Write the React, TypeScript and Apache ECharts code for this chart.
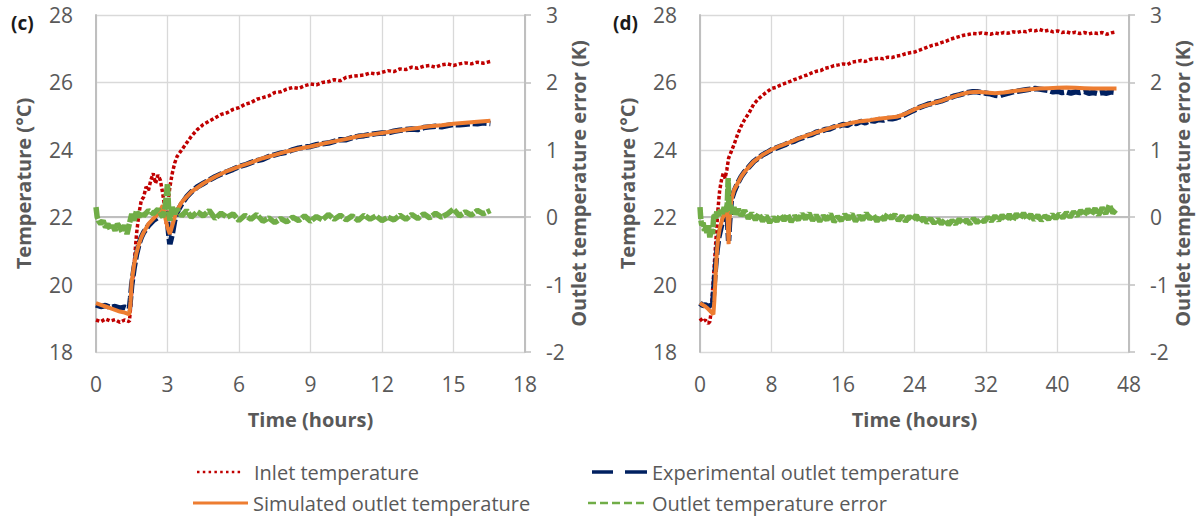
import React, { useEffect, useRef } from "react";
import * as echarts from "echarts";

// ---------- Data (time in hours, temperatures in °C, error in K) ----------
const xTicksC = { min: 0, max: 18, interval: 3 };
const xTicksD = { min: 0, max: 48, interval: 8 };
const tempAxis = { min: 18, max: 28, interval: 2 };
const errAxis = { min: -2, max: 3, interval: 1 };

const seriesNames = [
  "Inlet temperature",
  "Experimental outlet temperature",
  "Simulated outlet temperature",
  "Outlet temperature error",
];

const inletC = [
  [0, 18.95], [0.2, 18.9], [0.4, 18.98], [0.6, 18.92], [0.8, 18.96], [1.0, 18.88], [1.2, 18.95], [1.4, 18.9],
  [1.45, 19.3], [1.5, 19.8], [1.6, 20.6], [1.7, 21.5], [1.8, 22.1], [1.9, 22.5], [2.0, 22.6], [2.1, 22.9],
  [2.2, 22.8], [2.3, 23.1], [2.4, 23.3], [2.5, 23.0], [2.6, 23.25], [2.7, 23.1], [2.8, 22.7], [2.9, 22.2],
  [2.95, 21.8], [3.0, 22.3], [3.1, 22.9], [3.2, 23.3], [3.3, 23.6], [3.4, 23.8], [3.6, 24.0], [3.8, 24.2],
  [4.0, 24.4], [4.25, 24.6], [4.5, 24.75], [4.75, 24.85], [5.0, 24.95], [5.25, 25.05], [5.5, 25.1], [5.75, 25.2],
  [6.0, 25.25], [6.25, 25.35], [6.5, 25.4], [6.75, 25.5], [7.0, 25.55], [7.25, 25.6], [7.5, 25.7], [7.75, 25.72],
  [8.0, 25.8], [8.25, 25.85], [8.5, 25.82], [8.75, 25.9], [9.0, 25.95], [9.25, 25.93], [9.5, 26.0], [9.75, 26.02],
  [10.0, 26.08], [10.25, 26.05], [10.5, 26.15], [10.75, 26.18], [11.0, 26.2], [11.25, 26.22], [11.5, 26.28],
  [11.75, 26.25], [12.0, 26.3], [12.25, 26.35], [12.5, 26.32], [12.75, 26.4], [13.0, 26.38], [13.25, 26.45],
  [13.5, 26.42], [13.75, 26.48], [14.0, 26.5], [14.25, 26.45], [14.5, 26.52], [14.75, 26.55], [15.0, 26.5],
  [15.25, 26.55], [15.5, 26.58], [15.75, 26.55], [16.0, 26.6], [16.25, 26.57], [16.55, 26.62],
];

const expC = [
  [0, 19.4], [0.2, 19.35], [0.4, 19.38], [0.6, 19.32], [0.8, 19.35], [1.0, 19.3], [1.2, 19.33], [1.4, 19.28],
  [1.45, 19.6], [1.5, 20.0], [1.6, 20.5], [1.7, 20.9], [1.8, 21.2], [1.9, 21.4], [2.0, 21.55], [2.2, 21.75],
  [2.4, 21.9], [2.6, 22.0], [2.8, 22.1], [2.9, 22.15], [3.0, 21.9], [3.05, 21.5], [3.1, 21.2], [3.2, 21.5],
  [3.3, 21.9], [3.4, 22.15], [3.6, 22.4], [3.8, 22.6], [4.0, 22.75], [4.25, 22.9], [4.5, 23.0], [4.75, 23.1],
  [5.0, 23.2], [5.25, 23.28], [5.5, 23.35], [5.75, 23.42], [6.0, 23.5], [6.25, 23.55], [6.5, 23.62], [6.75, 23.68],
  [7.0, 23.72], [7.25, 23.8], [7.5, 23.85], [7.75, 23.9], [8.0, 23.93], [8.25, 24.0], [8.5, 24.05], [8.75, 24.08],
  [9.0, 24.1], [9.25, 24.15], [9.5, 24.18], [9.75, 24.2], [10.0, 24.25], [10.25, 24.3], [10.5, 24.3], [10.75, 24.36],
  [11.0, 24.4], [11.25, 24.42], [11.5, 24.45], [11.75, 24.48], [12.0, 24.5], [12.25, 24.5], [12.5, 24.55],
  [12.75, 24.58], [13.0, 24.6], [13.25, 24.62], [13.5, 24.6], [13.75, 24.66], [14.0, 24.68], [14.25, 24.7],
  [14.5, 24.68], [14.75, 24.72], [15.0, 24.75], [15.25, 24.74], [15.5, 24.76], [15.75, 24.78], [16.0, 24.77],
  [16.25, 24.8], [16.55, 24.78],
];

const simC = [
  [0, 19.45], [0.2, 19.4], [0.4, 19.35], [0.6, 19.3], [0.8, 19.25], [1.0, 19.2], [1.2, 19.17], [1.4, 19.12],
  [1.45, 19.5], [1.5, 20.1], [1.6, 20.6], [1.7, 20.95], [1.8, 21.2], [1.9, 21.4], [2.0, 21.55], [2.2, 21.8],
  [2.4, 21.95], [2.6, 22.1], [2.7, 22.2], [2.8, 22.35], [2.9, 22.0], [3.0, 21.7], [3.1, 21.5], [3.2, 21.75],
  [3.3, 22.0], [3.4, 22.2], [3.6, 22.45], [3.8, 22.6], [4.0, 22.75], [4.5, 23.0], [5.0, 23.2], [5.5, 23.37],
  [6.0, 23.5], [6.5, 23.62], [7.0, 23.75], [7.5, 23.85], [8.0, 23.95], [8.5, 24.03], [9.0, 24.1], [9.5, 24.18],
  [10.0, 24.25], [10.5, 24.32], [11.0, 24.4], [11.5, 24.45], [12.0, 24.5], [12.5, 24.55], [13.0, 24.6],
  [13.5, 24.65], [14.0, 24.7], [14.5, 24.73], [15.0, 24.77], [15.5, 24.8], [16.0, 24.83], [16.55, 24.86],
];

const errC = [
  [0, 0.15], [0.05, 0.0], [0.1, -0.05], [0.2, -0.1], [0.3, -0.05], [0.4, -0.15], [0.5, -0.1], [0.6, -0.18],
  [0.7, -0.12], [0.8, -0.2], [0.9, -0.1], [1.0, -0.15], [1.1, -0.22], [1.2, -0.12], [1.3, -0.25], [1.4, -0.1],
  [1.5, 0.05], [1.6, -0.05], [1.7, 0.1], [1.8, 0.0], [1.9, 0.08], [2.0, 0.02], [2.2, 0.1], [2.4, 0.05],
  [2.6, 0.12], [2.8, 0.0], [2.9, 0.15], [3.0, 0.5], [3.05, 0.1], [3.1, -0.05], [3.2, 0.15], [3.3, 0.05],
  [3.4, 0.12], [3.6, 0.02], [3.8, 0.1], [4.0, 0.0], [4.25, 0.08], [4.5, 0.02], [4.75, 0.1], [5.0, -0.02],
  [5.25, 0.06], [5.5, 0.0], [5.75, 0.05], [6.0, -0.05], [6.25, 0.03], [6.5, -0.03], [6.75, 0.04], [7.0, -0.06],
  [7.25, -0.01], [7.5, -0.08], [7.75, -0.02], [8.0, -0.07], [8.25, 0.0], [8.5, -0.05], [8.75, 0.02], [9.0, -0.06],
  [9.25, 0.01], [9.5, -0.04], [9.75, 0.04], [10.0, -0.03], [10.25, 0.03], [10.5, -0.04], [10.75, 0.02],
  [11.0, -0.05], [11.25, 0.03], [11.5, -0.03], [11.75, 0.02], [12.0, -0.05], [12.25, 0.0], [12.5, -0.04],
  [12.75, 0.03], [13.0, -0.03], [13.25, 0.04], [13.5, -0.02], [13.75, 0.05], [14.0, -0.01], [14.25, 0.06],
  [14.5, 0.0], [14.75, 0.05], [15.0, 0.12], [15.25, 0.02], [15.5, 0.08], [15.75, 0.03], [16.0, 0.1],
  [16.25, 0.05], [16.55, 0.1],
];

const inletD = [
  [0, 19.0], [0.3, 18.9], [0.6, 18.95], [0.9, 18.85], [1.1, 18.9], [1.2, 19.1], [1.4, 19.8], [1.6, 20.6],
  [1.8, 21.4], [2.0, 22.2], [2.2, 22.8], [2.4, 23.1], [2.6, 23.3], [2.8, 23.15], [3.0, 23.4], [3.2, 23.75],
  [3.5, 23.95], [3.8, 24.15], [4.2, 24.45], [4.6, 24.7], [5.0, 24.9], [5.5, 25.1], [6.0, 25.35], [6.5, 25.5],
  [7.0, 25.62], [7.5, 25.72], [8.0, 25.82], [8.5, 25.85], [9, 25.92], [9.5, 25.97], [10, 26.02], [10.5, 26.08],
  [11, 26.12], [11.5, 26.18], [12, 26.22], [12.5, 26.28], [13, 26.33], [13.5, 26.35], [14, 26.42], [14.5, 26.45],
  [15, 26.5], [15.5, 26.52], [16, 26.55], [16.5, 26.53], [17, 26.6], [17.5, 26.62], [18, 26.65], [18.5, 26.62],
  [19, 26.68], [19.5, 26.7], [20, 26.72], [20.5, 26.7], [21, 26.75], [21.5, 26.74], [22, 26.78], [22.5, 26.8],
  [23, 26.85], [23.5, 26.88], [24, 26.9], [24.5, 26.95], [25, 27.0], [25.5, 27.05], [26, 27.1], [26.5, 27.13],
  [27, 27.18], [27.5, 27.22], [28, 27.28], [28.5, 27.32], [29, 27.36], [29.5, 27.4], [30, 27.42], [30.5, 27.45],
  [31, 27.44], [31.5, 27.47], [32, 27.45], [32.5, 27.43], [33, 27.47], [33.5, 27.44], [34, 27.48], [34.5, 27.46],
  [35, 27.5], [35.5, 27.48], [36, 27.52], [36.5, 27.5], [37, 27.55], [37.5, 27.53], [38, 27.57], [38.5, 27.52],
  [39, 27.55], [39.5, 27.5], [40, 27.53], [40.5, 27.48], [41, 27.5], [41.5, 27.46], [42, 27.49], [42.5, 27.45],
  [43, 27.48], [43.5, 27.44], [44, 27.47], [44.5, 27.45], [45, 27.48], [45.5, 27.43], [46, 27.47], [46.6, 27.5],
];

const expD = [
  [0, 19.45], [0.3, 19.38], [0.6, 19.4], [0.9, 19.35], [1.2, 19.38], [1.4, 19.32], [1.5, 19.7], [1.7, 20.4],
  [1.9, 21.0], [2.1, 21.4], [2.4, 21.75], [2.7, 22.0], [3.0, 22.2], [3.1, 21.8], [3.2, 21.3], [3.3, 21.8],
  [3.5, 22.5], [3.8, 22.75], [4.2, 23.0], [4.6, 23.2], [5.0, 23.35], [5.5, 23.5], [6.0, 23.65], [6.5, 23.75],
  [7.0, 23.85], [7.5, 23.92], [8, 24.0], [8.5, 24.05], [9, 24.1], [9.5, 24.15], [10, 24.22], [10.5, 24.25],
  [11, 24.32], [11.5, 24.36], [12, 24.42], [12.5, 24.45], [13, 24.52], [13.5, 24.55], [14, 24.6], [14.5, 24.62],
  [15, 24.68], [15.5, 24.7], [16, 24.75], [16.5, 24.73], [17, 24.8], [17.5, 24.78], [18, 24.84], [18.5, 24.8],
  [19, 24.87], [19.5, 24.85], [20, 24.9], [20.5, 24.88], [21, 24.93], [21.5, 24.92], [22, 24.95], [22.5, 25.0],
  [23, 25.05], [23.5, 25.12], [24, 25.18], [24.5, 25.25], [25, 25.3], [25.5, 25.35], [26, 25.38], [26.5, 25.42],
  [27, 25.45], [27.5, 25.5], [28, 25.55], [28.5, 25.6], [29, 25.63], [29.5, 25.67], [30, 25.7], [30.5, 25.72],
  [31, 25.72], [31.5, 25.7], [32, 25.68], [32.5, 25.66], [33, 25.62], [33.5, 25.6], [34, 25.65], [34.5, 25.68],
  [35, 25.72], [35.5, 25.74], [36, 25.76], [36.5, 25.78], [37, 25.8], [37.5, 25.82], [38, 25.8], [38.5, 25.78],
  [39, 25.76], [39.5, 25.72], [40, 25.74], [40.5, 25.7], [41, 25.72], [41.5, 25.68], [42, 25.72], [42.5, 25.7],
  [43, 25.73], [43.5, 25.68], [44, 25.7], [44.5, 25.67], [45, 25.7], [45.5, 25.68], [46, 25.72], [46.6, 25.7],
];

const simD = [
  [0, 19.45], [0.3, 19.4], [0.6, 19.35], [0.9, 19.28], [1.2, 19.2], [1.5, 19.12], [1.6, 19.5], [1.7, 20.0],
  [1.8, 20.6], [1.9, 21.0], [2.0, 21.3], [2.2, 21.65], [2.5, 21.95], [2.8, 22.15], [3.0, 22.3], [3.1, 21.9],
  [3.2, 21.2], [3.3, 21.9], [3.5, 22.5], [3.8, 22.8], [4.2, 23.0], [4.6, 23.2], [5.0, 23.35], [5.5, 23.5],
  [6, 23.65], [7, 23.85], [8, 24.0], [9, 24.12], [10, 24.22], [11, 24.33], [12, 24.43], [13, 24.52], [14, 24.6],
  [15, 24.68], [16, 24.74], [17, 24.8], [18, 24.85], [19, 24.88], [20, 24.92], [21, 24.95], [22, 24.98],
  [23, 25.07], [24, 25.2], [25, 25.3], [26, 25.38], [27, 25.45], [28, 25.55], [29, 25.63], [30, 25.7],
  [31, 25.72], [32, 25.7], [33, 25.68], [34, 25.7], [35, 25.74], [36, 25.77], [37, 25.8], [38, 25.82],
  [39, 25.83], [40, 25.84], [41, 25.85], [42, 25.84], [43, 25.83], [44, 25.82], [45, 25.82], [46, 25.82],
  [46.6, 25.82],
];

const errD = [
  [0, 0.15], [0.1, -0.05], [0.2, -0.12], [0.35, -0.08], [0.5, -0.2], [0.65, -0.15], [0.8, -0.25], [0.95, -0.12],
  [1.1, -0.3], [1.25, -0.18], [1.4, -0.25], [1.5, -0.05], [1.6, 0.05], [1.75, -0.02], [1.9, 0.1], [2.1, 0.02],
  [2.3, 0.12], [2.5, 0.05], [2.7, 0.15], [2.9, 0.08], [3.05, 0.2], [3.15, 0.58], [3.25, 0.1], [3.4, 0.18],
  [3.6, 0.05], [3.8, 0.15], [4.0, 0.04], [4.3, 0.12], [4.6, 0.02], [5.0, 0.1], [5.4, -0.02], [5.8, 0.06],
  [6.2, -0.04], [6.6, 0.05], [7.0, -0.06], [7.4, 0.02], [7.8, -0.08], [8.2, 0.0], [8.6, -0.06], [9.0, 0.03],
  [9.4, -0.05], [9.8, 0.04], [10.2, -0.07], [10.6, 0.02], [11.0, -0.04], [11.4, 0.05], [11.8, -0.03],
  [12.2, 0.06], [12.6, -0.05], [13.0, 0.03], [13.4, -0.06], [13.8, 0.02], [14.2, -0.04], [14.6, 0.05],
  [15.0, -0.07], [15.4, 0.01], [15.8, -0.05], [16.2, 0.04], [16.6, -0.03], [17.0, 0.05], [17.4, -0.06],
  [17.8, 0.02], [18.2, -0.04], [18.6, 0.06], [19.0, -0.03], [19.4, 0.03], [19.8, -0.06], [20.2, 0.02],
  [20.6, -0.04], [21.0, 0.05], [21.4, -0.02], [21.8, 0.04], [22.2, -0.05], [22.6, 0.02], [23.0, -0.06],
  [23.4, 0.01], [23.8, -0.04], [24.2, 0.03], [24.6, -0.07], [25.0, -0.01], [25.4, -0.08], [25.8, -0.02],
  [26.2, -0.09], [26.6, -0.03], [27.0, -0.1], [27.4, -0.04], [27.8, -0.11], [28.2, -0.05], [28.6, -0.1],
  [29.0, -0.03], [29.4, -0.09], [29.8, -0.04], [30.2, -0.1], [30.6, -0.02], [31.0, -0.08], [31.4, -0.03],
  [31.8, -0.07], [32.2, 0.0], [32.6, -0.06], [33.0, 0.02], [33.4, -0.05], [33.8, 0.03], [34.2, -0.04],
  [34.6, 0.04], [35.0, -0.05], [35.4, 0.05], [35.8, -0.02], [36.2, 0.06], [36.6, -0.03], [37.0, 0.04],
  [37.4, -0.04], [37.8, 0.03], [38.2, -0.05], [38.6, 0.02], [39.0, -0.03], [39.4, 0.04], [39.8, -0.02],
  [40.2, 0.05], [40.6, -0.01], [41.0, 0.07], [41.4, 0.0], [41.8, 0.08], [42.2, 0.02], [42.6, 0.1], [43.0, 0.03],
  [43.4, 0.12], [43.8, 0.04], [44.2, 0.13], [44.6, 0.03], [45.0, 0.14], [45.4, 0.05], [45.8, 0.18], [46.2, 0.06],
  [46.6, 0.12],
];

// ---------- Styling ----------
const FONT = '"Open Sans", "Noto Sans", sans-serif';
const TXT = "#595959";
const GRID_C = "#D9D9D9";
const AXIS_C = "#BFBFBF";
const COLORS = ["#C00000", "#002060", "#ED7D31", "#70AD47"];

function xAxisFor(gridIndex: number, t: { min: number; max: number; interval: number }) {
  return {
    type: "value",
    gridIndex,
    min: t.min,
    max: t.max,
    interval: t.interval,
    name: "Time (hours)",
    nameLocation: "middle",
    nameGap: 57,
    nameTextStyle: { color: TXT, fontFamily: FONT, fontSize: 20, fontWeight: "bold" },
    axisLine: { show: true, lineStyle: { color: AXIS_C, width: 2 } },
    axisTick: { show: false },
    axisLabel: { color: TXT, fontFamily: FONT, fontSize: 21, margin: 21 },
    splitLine: { show: true, lineStyle: { color: GRID_C, width: 1.3 } },
  };
}

function leftYAxis(gridIndex: number) {
  return {
    type: "value",
    gridIndex,
    position: "left",
    min: tempAxis.min,
    max: tempAxis.max,
    interval: tempAxis.interval,
    name: "Temperature (°C)",
    nameLocation: "middle",
    nameGap: 63,
    nameTextStyle: { color: TXT, fontFamily: FONT, fontSize: 20, fontWeight: "bold" },
    axisLine: { show: true, lineStyle: { color: AXIS_C, width: 2 } },
    axisTick: { show: false },
    axisLabel: { color: TXT, fontFamily: FONT, fontSize: 21, margin: 23 },
    splitLine: { show: true, lineStyle: { color: GRID_C, width: 1.3 } },
  };
}

function rightYAxis(gridIndex: number) {
  return {
    type: "value",
    gridIndex,
    position: "right",
    min: errAxis.min,
    max: errAxis.max,
    interval: errAxis.interval,
    name: "Outlet temperature error (K)",
    nameLocation: "middle",
    nameGap: 43,
    nameRotate: 90,
    nameTextStyle: { color: TXT, fontFamily: FONT, fontSize: 20, fontWeight: "bold" },
    axisLine: { show: true, lineStyle: { color: AXIS_C, width: 2 } },
    axisTick: { show: true, length: 6, inside: false, lineStyle: { color: AXIS_C, width: 1.5 } },
    axisLabel: { color: TXT, fontFamily: FONT, fontSize: 21, margin: 21 },
    splitLine: { show: false },
  };
}

function panelSeries(xIdx: number, yLeft: number, yRight: number, inlet: number[][], exp: number[][], sim: number[][], err: number[][]) {
  const base = { type: "line", showSymbol: false, symbol: "none", xAxisIndex: xIdx, silent: true };
  return [
    { ...base, name: seriesNames[0], yAxisIndex: yLeft, data: inlet, z: 2,
      lineStyle: { color: COLORS[0], width: 3.5, type: [3.5, 2.2] } },
    { ...base, name: seriesNames[1], yAxisIndex: yLeft, data: exp, z: 3,
      lineStyle: { color: COLORS[1], width: 5.5, type: [14, 3] } },
    { ...base, name: seriesNames[2], yAxisIndex: yLeft, data: sim, z: 4,
      lineStyle: { color: COLORS[2], width: 4 } },
    { ...base, name: seriesNames[3], yAxisIndex: yRight, data: err, z: 5,
      lineStyle: { color: COLORS[3], width: 5.5, type: [12, 1.5] } },
  ];
}

function legendGraphics() {
  const rows = [472, 503];
  const textStyle = (text: string) => ({ text, fill: TXT, fontFamily: FONT, fontSize: 20, verticalAlign: "middle", align: "left" });
  return [
    { type: "line", shape: { x1: 197, y1: rows[0], x2: 243, y2: rows[0] }, style: { stroke: COLORS[0], lineWidth: 2.5, lineDash: [2.5, 3.3] } },
    { type: "text", x: 254, y: rows[0], style: textStyle(seriesNames[0]) },
    { type: "line", shape: { x1: 592, y1: rows[0], x2: 613, y2: rows[0] }, style: { stroke: COLORS[1], lineWidth: 3.5 } },
    { type: "line", shape: { x1: 625, y1: rows[0], x2: 647, y2: rows[0] }, style: { stroke: COLORS[1], lineWidth: 3.5 } },
    { type: "text", x: 652, y: rows[0], style: textStyle(seriesNames[1]) },
    { type: "line", shape: { x1: 193, y1: rows[1], x2: 248, y2: rows[1] }, style: { stroke: COLORS[2], lineWidth: 3 } },
    { type: "text", x: 253, y: rows[1], style: textStyle(seriesNames[2]) },
    { type: "line", shape: { x1: 588, y1: rows[1], x2: 648, y2: rows[1] }, style: { stroke: COLORS[3], lineWidth: 2.5, lineDash: [8, 4] } },
    { type: "text", x: 652, y: rows[1], style: textStyle(seriesNames[3]) },
    { type: "text", x: 11, y: 23, style: { text: "(c)", fill: "#1a1a1a", fontFamily: FONT, fontSize: 19, fontWeight: "bold", verticalAlign: "middle" } },
    { type: "text", x: 613, y: 23, style: { text: "(d)", fill: "#1a1a1a", fontFamily: FONT, fontSize: 19, fontWeight: "bold", verticalAlign: "middle" } },
  ];
}

export default function App() {
  const ref = useRef<HTMLDivElement>(null);
  useEffect(() => {
    if (!ref.current) return;
    const chart = echarts.init(ref.current, null, { renderer: "svg" });
    chart.setOption({
      animation: false,
      backgroundColor: "#ffffff",
      textStyle: { fontFamily: FONT },
      grid: [
        { left: 96, top: 15, width: 429, height: 337, containLabel: false },
        { left: 700, top: 15, width: 429, height: 337, containLabel: false },
      ],
      xAxis: [xAxisFor(0, xTicksC), xAxisFor(1, xTicksD)],
      yAxis: [leftYAxis(0), rightYAxis(0), leftYAxis(1), rightYAxis(1)],
      series: [
        ...panelSeries(0, 0, 1, inletC, expC, simC, errC),
        ...panelSeries(1, 2, 3, inletD, expD, simD, errD),
      ],
      graphic: legendGraphics(),
    });
    return () => chart.dispose();
  }, []);
  return (
    <div
      ref={ref}
      style={{ position: "absolute", left: 0, top: 0, width: 1199, height: 517, background: "#fff" }}
    />
  );
}
